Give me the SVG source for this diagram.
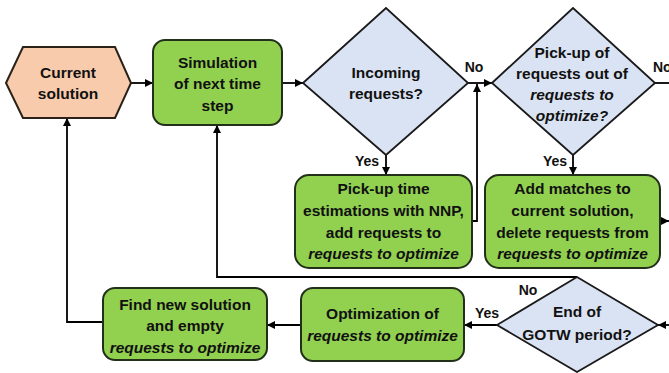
<svg xmlns="http://www.w3.org/2000/svg" width="669" height="373" viewBox="0 0 669 373">
<defs>
<marker id="arr" viewBox="0 0 10 10" refX="10" refY="5" markerWidth="9" markerHeight="8" markerUnits="userSpaceOnUse" orient="auto">
<path d="M0,0 L10,5 L0,10 z" fill="#000"/>
</marker>
<style>
.t{font-family:"Liberation Sans",Arial,sans-serif;font-weight:bold;font-size:15.5px;fill:#111;text-anchor:middle}
.i{font-style:italic}
.l{font-family:"Liberation Sans",Arial,sans-serif;font-weight:bold;font-size:14px;fill:#111;text-anchor:middle}
.box{fill:#92d050;stroke:#22301a;stroke-width:2}
.dia{fill:#dae3f3;stroke:#1a1a1a;stroke-width:1.8}
.hex{fill:#f8cbad;stroke:#2a2218;stroke-width:2}
.c{fill:none;stroke:#000;stroke-width:1.8}
.a{marker-end:url(#arr)}
</style>
</defs>
<rect width="669" height="373" fill="#fff"/>
<g id="connectors">
<path class="c a" d="M131,83 H153"/>
<path class="c a" d="M282,83 H303"/>
<path class="c a" d="M468,83 H492"/>
<path class="c" d="M655,83 H669"/>
<path class="c a" d="M386,155 V175"/>
<path class="c a" d="M573,155 V175"/>
<path class="c a" d="M472,221 H477 V84"/>
<path class="c a" d="M660,221 H669"/>
<path class="c a" d="M669,325 H658"/>
<path class="c a" d="M497,325 H464"/>
<path class="c a" d="M301,325 H267"/>
<path class="c a" d="M103,322 H67 V118"/>
<path class="c a" d="M577,277 H217 V125"/>
<text class="l" x="474" y="72">No</text>
<text class="l" x="653" y="72" style="text-anchor:start">No</text>
<text class="l" x="367" y="166">Yes</text>
<text class="l" x="555" y="166">Yes</text>
<text class="l" x="528" y="295">No</text>
<text class="l" x="487" y="318">Yes</text>
</g>
<g id="current-solution">
<polygon class="hex" points="6,83 23,47 115,47 131,83 115,118 23,118"/>
<text class="t" x="68" y="77.5">Current</text>
<text class="t" x="68" y="99">solution</text>
</g>
<g id="simulation">
<rect class="box" x="153" y="40" width="129" height="85" rx="12"/>
<text class="t" x="217.5" y="67.5">Simulation</text>
<text class="t" x="217.5" y="89">of next time</text>
<text class="t" x="217.5" y="110.5">step</text>
</g>
<g id="incoming">
<polygon class="dia" points="303,83 386,8 468,83 386,155"/>
<text class="t" x="386" y="77.5">Incoming</text>
<text class="t" x="386" y="99">requests?</text>
</g>
<g id="pickup-check">
<polygon class="dia" points="492,83 573,8 655,83 573,155"/>
<text class="t" x="572" y="57.5">Pick-up of</text>
<text class="t" x="572" y="78.5">requests out of</text>
<text class="t i" x="572" y="99.5">requests to</text>
<text class="t i" x="572" y="120.5">optimize?</text>
</g>
<g id="pickup-estimation">
<rect class="box" x="295" y="175" width="177" height="93" rx="14"/>
<text class="t" x="383.5" y="193.5">Pick-up time</text>
<text class="t" x="383.5" y="215.5">estimations with NNP,</text>
<text class="t" x="383.5" y="237.5">add requests to</text>
<text class="t i" x="383.5" y="258.5">requests to optimize</text>
</g>
<g id="add-matches">
<rect class="box" x="485" y="175" width="175" height="93" rx="14"/>
<text class="t" x="572.5" y="193.5">Add matches to</text>
<text class="t" x="572.5" y="215.5">current solution,</text>
<text class="t" x="572.5" y="237.5">delete requests from</text>
<text class="t i" x="572.5" y="258.5">requests to optimize</text>
</g>
<g id="end-gotw">
<polygon class="dia" points="497,325 577,277 658,325 577,372"/>
<text class="t" x="577" y="316.5">End of</text>
<text class="t" x="577" y="340">GOTW period?</text>
</g>
<g id="optimization">
<rect class="box" x="301" y="288" width="163" height="73" rx="12"/>
<text class="t" x="382.5" y="318.5">Optimization of</text>
<text class="t i" x="382.5" y="340.5">requests to optimize</text>
</g>
<g id="find-solution">
<rect class="box" x="103" y="288" width="164" height="72" rx="12"/>
<text class="t" x="185" y="309.5">Find new solution</text>
<text class="t" x="185" y="331">and empty</text>
<text class="t i" x="185" y="352.5">requests to optimize</text>
</g>
</svg>
